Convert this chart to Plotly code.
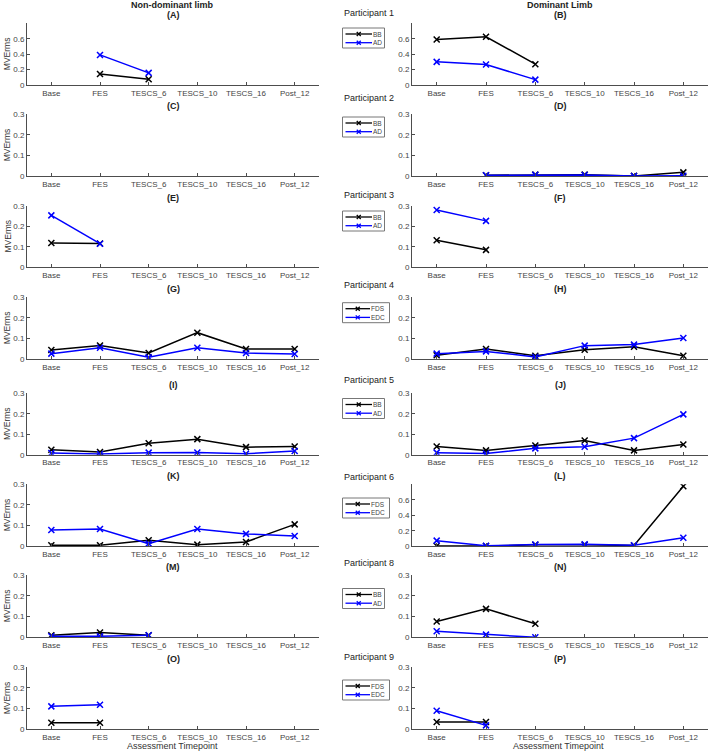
import plotly.graph_objects as go

categories = ["Base", "FES", "TESCS_6", "TESCS_10", "TESCS_16", "Post_12"]
participants = ["Participant 1", "Participant 2", "Participant 3", "Participant 4",
                "Participant 5", "Participant 6", "Participant 8", "Participant 9"]
muscles = [("BB", "AD"), ("BB", "AD"), ("BB", "AD"), ("FDS", "EDC"),
           ("BB", "AD"), ("FDS", "EDC"), ("BB", "AD"), ("FDS", "EDC")]
letters_nd = ["(A)", "(C)", "(E)", "(G)", "(I)", "(K)", "(M)", "(O)"]
letters_d = ["(B)", "(D)", "(F)", "(H)", "(J)", "(L)", "(N)", "(P)"]
N = None

# Non-dominant limb (left column): [black muscle, blue muscle]
nd_p1 = ([N, 0.143, 0.074, N, N, N], [N, 0.390, 0.157, N, N, N])
nd_p2 = ([N, N, N, N, N, N], [N, N, N, N, N, N])
nd_p3 = ([0.118, 0.116, N, N, N, N], [0.253, 0.115, N, N, N, N])
nd_p4 = ([0.044, 0.066, 0.029, 0.128, 0.049, 0.049], [0.026, 0.055, 0.008, 0.055, 0.029, 0.024])
nd_p5 = ([0.024, 0.013, 0.056, 0.076, 0.037, 0.040], [0.008, 0.003, 0.010, 0.011, 0.005, 0.018])
nd_p6 = ([0.005, 0.005, 0.029, 0.008, 0.021, 0.106], [0.079, 0.084, 0.013, 0.084, 0.060, 0.050])
nd_p8 = ([0.010, 0.023, 0.010, N, N, N], [0.005, 0.005, 0.010, N, N, N])
nd_p9 = ([0.032, 0.032, N, N, N, N], [0.111, 0.119, N, N, N, N])

# Dominant limb (right column)
d_p1 = ([0.590, 0.626, 0.270, N, N, N], [0.300, 0.265, 0.070, N, N, N])
d_p2 = ([N, 0.005, 0.008, 0.008, 0.002, 0.019], [N, 0.005, 0.007, 0.006, 0.001, 0.003])
d_p3 = ([0.132, 0.085, N, N, N, N], [0.279, 0.226, N, N, N, N])
d_p4 = ([0.018, 0.049, 0.016, 0.045, 0.060, 0.016], [0.026, 0.037, 0.010, 0.065, 0.070, 0.102])
d_p5 = ([0.040, 0.021, 0.045, 0.069, 0.021, 0.050], [0.010, 0.006, 0.031, 0.039, 0.081, 0.197])
d_p6 = ([0.005, 0.003, 0.020, 0.020, 0.010, 0.775], [0.073, 0.006, 0.022, 0.025, 0.013, 0.110])
d_p8 = ([0.076, 0.137, 0.065, N, N, N], [0.029, 0.013, 0.000, N, N, N])
d_p9 = ([0.035, 0.035, N, N, N, N], [0.090, 0.019, N, N, N, N])

nd_data = [nd_p1, nd_p2, nd_p3, nd_p4, nd_p5, nd_p6, nd_p8, nd_p9]
d_data = [d_p1, d_p2, d_p3, d_p4, d_p5, d_p6, d_p8, d_p9]
ymax_nd = [0.8, 0.3, 0.3, 0.3, 0.3, 0.3, 0.3, 0.3]
ymax_d = [0.8, 0.3, 0.3, 0.3, 0.3, 0.8, 0.3, 0.3]

# ---- layout geometry (pixels) ----
W, H = 709, 754
tops = [23.3, 114.3, 205.7, 297.3, 393.3, 484.3, 575.0, 667.3]
bots = [85.0, 176.3, 267.3, 359.0, 454.7, 546.3, 637.3, 729.3]
part_y = [13.3, 97.7, 195.0, 284.7, 380.0, 476.7, 563.0, 657.0]
leg_tops = [28.0, 117.0, 211.0, 302.7, 398.5, 498.0, 588.5, 680.0]
col_x = [(27, 319), (412, 708)]
BLACK = "#000000"
BLUE = "#0000ff"
AX = "#4d4d4d"
FONT = "Liberation Sans, Arial, sans-serif"

def px_x(p):
    return p / W

def px_y(p):
    return 1 - p / H

fig = go.Figure()
layout = {}
annotations = []
shapes = []

for r in range(8):
    for c in range(2):
        idx = r * 2 + c + 1
        xa = "x" if idx == 1 else f"x{idx}"
        ya = "y" if idx == 1 else f"y{idx}"
        data = nd_data[r] if c == 0 else d_data[r]
        ymax = ymax_nd[r] if c == 0 else ymax_d[r]
        for k, col in enumerate([BLACK, BLUE]):
            fig.add_trace(go.Scatter(
                x=categories, y=data[k], mode="lines+markers",
                name=muscles[r][k], showlegend=False,
                line=dict(color=col, width=1.5),
                marker=dict(symbol="x-thin", size=6, color=col,
                            line=dict(width=1.5, color=col)),
                xaxis=xa, yaxis=ya, connectgaps=False))
        x0, x1 = col_x[c]
        layout["xaxis" if idx == 1 else f"xaxis{idx}"] = dict(
            domain=[px_x(x0), px_x(x1)], anchor=ya, type="category",
            categoryorder="array", categoryarray=categories,
            range=[-0.5, 5.5], showline=True, linecolor=AX, linewidth=1,
            ticks="inside", ticklen=3, tickcolor=AX, tickangle=0,
            tickfont=dict(size=8, color="#444", family=FONT),
            showgrid=False, zeroline=False, automargin=False)
        tv = [0, 0.2, 0.4, 0.6] if ymax > 0.5 else [0, 0.1, 0.2, 0.3]
        layout["yaxis" if idx == 1 else f"yaxis{idx}"] = dict(
            domain=[px_y(bots[r]), px_y(tops[r])], anchor=xa,
            range=[0, ymax], tickvals=tv, ticktext=[f"{v:g}" for v in tv],
            showline=True, linecolor=AX, linewidth=1,
            ticks="inside", ticklen=3, tickcolor=AX,
            tickfont=dict(size=8, color="#444", family=FONT),
            showgrid=False, zeroline=False, automargin=False)
        letter = letters_nd[r] if c == 0 else letters_d[r]
        annotations.append(dict(
            text=f"<b>{letter}</b>", x=px_x((x0 + x1) / 2), y=px_y(tops[r] - 1),
            xref="paper", yref="paper", xanchor="center", yanchor="bottom",
            showarrow=False, font=dict(size=9, color="#222", family=FONT)))
    annotations.append(dict(
        text="MVErms", x=px_x(7), y=px_y((tops[r] + bots[r]) / 2),
        xref="paper", yref="paper", xanchor="center", yanchor="middle",
        textangle=-90, showarrow=False, font=dict(size=8.5, color="#333", family=FONT)))
    annotations.append(dict(
        text=participants[r], x=px_x(342), y=px_y(part_y[r]),
        xref="paper", yref="paper", xanchor="left", yanchor="middle",
        showarrow=False, font=dict(size=9, color="#222", family=FONT)))

# ---- compact legends drawn on an overlay axis in pixel units ----
LX, LY = "x17", "y17"
layout["xaxis17"] = dict(domain=[0, 1], range=[0, W], visible=False, fixedrange=True)
layout["yaxis17"] = dict(domain=[0, 1], range=[H, 0], visible=False, fixedrange=True)
for r in range(8):
    top = leg_tops[r]
    wide = max(len(m) for m in muscles[r]) > 2
    bx0, bx1 = 342.5, (389.5 if wide else 384.5)
    shapes.append(dict(type="rect", xref=LX, yref=LY, x0=bx0, x1=bx1, y0=top, y1=top + 20,
                       line=dict(color="#777", width=1), fillcolor="rgba(0,0,0,0)"))
    lx1 = 370 if wide else 372
    for k, col in enumerate([BLACK, BLUE]):
        ry = top + 6 + k * 8.7
        fig.add_trace(go.Scatter(
            x=[345.5, (345.5 + lx1) / 2, lx1], y=[ry, ry, ry], mode="lines+markers",
            line=dict(color=col, width=1.3),
            marker=dict(symbol="x-thin", size=4, color=col, opacity=[0, 1, 0],
                        line=dict(width=1.3, color=col)),
            xaxis=LX, yaxis=LY, showlegend=False, hoverinfo="skip"))
        annotations.append(dict(
            text=muscles[r][k], x=lx1, y=ry, xref=LX, yref=LY,
            xanchor="left", yanchor="middle", showarrow=False, borderpad=0,
            font=dict(size=6.5, color="#444", family=FONT)))

annotations.append(dict(text="<b>Non-dominant limb</b>", x=px_x(172), y=px_y(12),
                        xref="paper", yref="paper", xanchor="center", yanchor="bottom",
                        showarrow=False, font=dict(size=9, color="#222", family=FONT)))
annotations.append(dict(text="<b>Dominant Limb</b>", x=px_x(560), y=px_y(12),
                        xref="paper", yref="paper", xanchor="center", yanchor="bottom",
                        showarrow=False, font=dict(size=9, color="#222", family=FONT)))
for cx in [172, 558]:
    annotations.append(dict(text="Assessment Timepoint", x=px_x(cx), y=px_y(746),
                            xref="paper", yref="paper", xanchor="center", yanchor="middle",
                            showarrow=False, font=dict(size=9, color="#333", family=FONT)))

fig.update_layout(**layout)
fig.update_layout(
    width=W, height=H, margin=dict(l=0, r=0, t=0, b=0),
    paper_bgcolor="white", plot_bgcolor="rgba(0,0,0,0)", showlegend=False,
    annotations=annotations, shapes=shapes, font=dict(family=FONT))
fig.write_html("out.html")
